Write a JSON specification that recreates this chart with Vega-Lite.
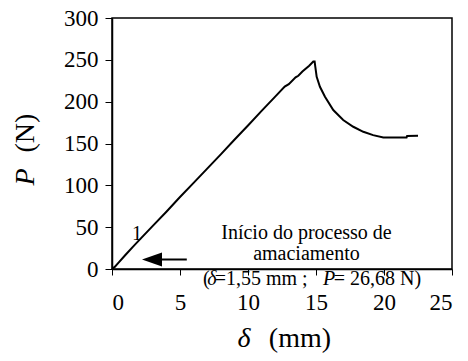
{
  "$schema": "https://vega.github.io/schema/vega-lite/v6.json",
  "width": 340,
  "height": 251,
  "autosize": {"type": "none"},
  "padding": {"left": 112, "top": 18, "right": 16, "bottom": 92},
  "background": "white",
  "config": {
    "font": "Liberation Serif",
    "text": {"font": "Liberation Serif"},
    "style": {"guide-label": {"font": "Liberation Serif", "fill": "black"}},
    "view": {"stroke": "black", "strokeWidth": 1.5},
    "axis": {"grid": false, "domainColor": "black", "domainWidth": 1.5, "tickColor": "black", "tickWidth": 1, "labelColor": "black", "labelFont": "Liberation Serif"}
  },
  "datasets": {
    "curve": [
      {"d": 0, "p": 0}, {"d": 0.2, "p": 2.5}, {"d": 0.5, "p": 8}, {"d": 1, "p": 17}, {"d": 1.55, "p": 26.68},
      {"d": 2, "p": 34.5}, {"d": 3, "p": 51.5}, {"d": 4, "p": 68.5}, {"d": 5, "p": 86}, {"d": 6, "p": 103},
      {"d": 7, "p": 120}, {"d": 8, "p": 137}, {"d": 9, "p": 154.5}, {"d": 10, "p": 171.5}, {"d": 11, "p": 189},
      {"d": 12, "p": 206}, {"d": 12.7, "p": 218}, {"d": 13, "p": 221}, {"d": 13.5, "p": 229}, {"d": 13.7, "p": 231},
      {"d": 14, "p": 236}, {"d": 14.5, "p": 243}, {"d": 14.8, "p": 248}, {"d": 14.9, "p": 248}, {"d": 14.95, "p": 241.7},
      {"d": 15.05, "p": 229.7}, {"d": 15.29, "p": 217.8}, {"d": 15.66, "p": 205.9}, {"d": 16.27, "p": 190},
      {"d": 17.0, "p": 178}, {"d": 17.74, "p": 170}, {"d": 18.48, "p": 164}, {"d": 19.2, "p": 160},
      {"d": 19.95, "p": 157.3}, {"d": 21.66, "p": 157.3}, {"d": 21.7, "p": 159}, {"d": 22.5, "p": 159.3}
    ],
    "notes": [
      {"x": 14.3, "y": 43, "t": "Início do processo de"},
      {"x": 14.3, "y": 18.5, "t": "amaciamento"},
      {"x": 1.84, "y": 41.8, "t": "1"}
    ],
    "normalSeg": [
      {"x": 6.69, "y": -12, "t": "("},
      {"x": 7.55, "y": -12, "t": "=1,55 mm ;"},
      {"x": 16.3, "y": -12, "t": "= 26,68 N)"}
    ],
    "italicSeg": [
      {"x": 7.0, "y": -12, "t": "δ"},
      {"x": 15.51, "y": -12, "t": "P"}
    ],
    "xTitle": [
      {"x": 9.71, "y": -83.6, "t": "δ", "s": "italic"},
      {"x": 13.82, "y": -83.6, "t": "(mm)", "s": "normal"}
    ],
    "yTitle": [
      {"x": -6.3, "y": 110, "t": "P", "s": "italic"},
      {"x": -6.3, "y": 162.5, "t": "(N)", "s": "normal"}
    ],
    "arrow": [{"x": 2.94, "x2": 5.5, "y": 11.4}]
  },
  "layer": [
    {
      "data": {"name": "curve"},
      "mark": {"type": "line", "color": "black", "strokeWidth": 2},
      "encoding": {
        "x": {"field": "d", "type": "quantitative", "scale": {"domain": [0, 25], "nice": false},
          "axis": {"values": [0, 5, 10, 15, 20, 25], "tickSize": 6, "labelFont": "Liberation Serif", "labelFontSize": 23, "labelPadding": 16, "title": null}},
        "y": {"field": "p", "type": "quantitative", "scale": {"domain": [0, 300], "nice": false},
          "axis": {"values": [0, 50, 100, 150, 200, 250, 300], "tickSize": 7, "labelFont": "Liberation Serif", "labelFontSize": 23, "labelPadding": 7, "title": null}}
      }
    },
    {
      "data": {"name": "notes"},
      "mark": {"type": "text", "fontSize": 20, "align": "center", "baseline": "middle", "color": "black"},
      "encoding": {"x": {"field": "x", "type": "quantitative"}, "y": {"field": "y", "type": "quantitative"}, "text": {"field": "t"}}
    },
    {
      "data": {"name": "normalSeg"},
      "mark": {"type": "text", "fontSize": 20, "align": "left", "baseline": "middle", "color": "black"},
      "encoding": {"x": {"field": "x", "type": "quantitative"}, "y": {"field": "y", "type": "quantitative"}, "text": {"field": "t"}}
    },
    {
      "data": {"name": "italicSeg"},
      "mark": {"type": "text", "fontSize": 20, "fontStyle": "italic", "align": "left", "baseline": "middle", "color": "black"},
      "encoding": {"x": {"field": "x", "type": "quantitative"}, "y": {"field": "y", "type": "quantitative"}, "text": {"field": "t"}}
    },
    {
      "data": {"name": "xTitle"},
      "transform": [{"filter": "datum.s == 'italic'"}],
      "mark": {"type": "text", "fontSize": 28, "fontStyle": "italic", "align": "center", "baseline": "middle", "color": "black"},
      "encoding": {"x": {"field": "x", "type": "quantitative"}, "y": {"field": "y", "type": "quantitative"}, "text": {"field": "t"}}
    },
    {
      "data": {"name": "xTitle"},
      "transform": [{"filter": "datum.s == 'normal'"}],
      "mark": {"type": "text", "fontSize": 28, "align": "center", "baseline": "middle", "color": "black"},
      "encoding": {"x": {"field": "x", "type": "quantitative"}, "y": {"field": "y", "type": "quantitative"}, "text": {"field": "t"}}
    },
    {
      "data": {"name": "yTitle"},
      "transform": [{"filter": "datum.s == 'italic'"}],
      "mark": {"type": "text", "fontSize": 28, "fontStyle": "italic", "angle": 270, "align": "center", "baseline": "middle", "color": "black"},
      "encoding": {"x": {"field": "x", "type": "quantitative"}, "y": {"field": "y", "type": "quantitative"}, "text": {"field": "t"}}
    },
    {
      "data": {"name": "yTitle"},
      "transform": [{"filter": "datum.s == 'normal'"}],
      "mark": {"type": "text", "fontSize": 28, "angle": 270, "align": "center", "baseline": "middle", "color": "black"},
      "encoding": {"x": {"field": "x", "type": "quantitative"}, "y": {"field": "y", "type": "quantitative"}, "text": {"field": "t"}}
    },
    {
      "data": {"name": "arrow"},
      "mark": {"type": "rule", "color": "black", "strokeWidth": 2},
      "encoding": {"x": {"field": "x", "type": "quantitative"}, "x2": {"field": "x2"}, "y": {"field": "y", "type": "quantitative"}}
    },
    {
      "data": {"name": "arrow"},
      "mark": {"type": "point", "shape": "M-1,0L1,-0.7L1,0.7Z", "filled": true, "color": "black", "size": 400, "opacity": 1},
      "encoding": {"x": {"field": "x", "type": "quantitative"}, "y": {"field": "y", "type": "quantitative"}}
    }
  ]
}
